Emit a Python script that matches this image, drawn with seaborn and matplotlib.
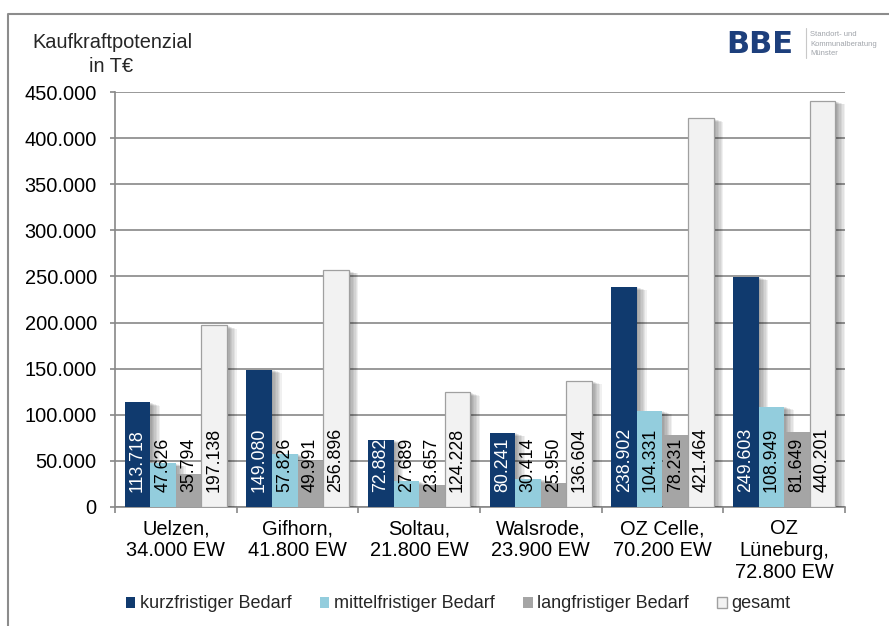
import matplotlib
matplotlib.use("Agg")
import matplotlib.pyplot as plt
import matplotlib.patheffects as pe
from matplotlib.lines import Line2D
from matplotlib.patches import Patch
from matplotlib.ticker import FixedLocator, FuncFormatter
import seaborn as sns
import pandas as pd

# --- data -------------------------------------------------------------
standorte = ["Uelzen,\n34.000 EW", "Gifhorn,\n41.800 EW", "Soltau,\n21.800 EW",
             "Walsrode,\n23.900 EW", "OZ Celle,\n70.200 EW", "OZ\nLüneburg,\n72.800 EW"]
kurzfristig = [113718, 149080, 72882, 80241, 238902, 249603]
mittelfristig = [47626, 57826, 27689, 30414, 104331, 108949]
langfristig = [35794, 49991, 23657, 25950, 78231, 81649]
gesamt = [197138, 256896, 124228, 136604, 421464, 440201]
serien = ["kurzfristiger Bedarf", "mittelfristiger Bedarf", "langfristiger Bedarf", "gesamt"]
y_ticks = list(range(0, 450001, 50000))

farben = ["#103a6e", "#93cddd", "#a5a5a5", "#f2f2f2"]
label_farben = ["white", "black", "black", "black"]

df = pd.DataFrame({
    "Standort": standorte * 4,
    "Bedarf": sum([[s] * len(standorte) for s in serien], []),
    "Wert": kurzfristig + mittelfristig + langfristig + gesamt,
})

sns.set_style("white")
plt.rcParams["font.family"] = ["Liberation Sans", "DejaVu Sans"]

fig = plt.figure(figsize=(8.89, 6.26), dpi=100)
ax = fig.add_axes([115 / 889, 1 - 507 / 626, 730 / 889, 415 / 626])

sns.barplot(data=df, x="Standort", y="Wert", hue="Bedarf", hue_order=serien,
            order=standorte, palette=farben, saturation=1, width=0.84,
            errorbar=None, legend=False, ax=ax, zorder=3)

def de_fmt(v):
    return f"{int(round(v)):,}".replace(",", ".")

# soft drop shadow built from stacked, slightly offset copies
schatten = [pe.SimplePatchShadow(offset=(k * 1.0, -k * 0.35), shadow_rgbFace="black",
                                 alpha=0.06) for k in range(1, 8)] + [pe.Normal()]

for i, cont in enumerate(ax.containers):
    for bar in cont:
        bar.set_edgecolor("#a0a0a0" if i == 3 else farben[i])
        bar.set_linewidth(0.9 if i == 3 else 0)
        bar.set_path_effects(schatten)
        xc = bar.get_x() + bar.get_width() / 2
        ax.annotate(de_fmt(bar.get_height()), xy=(xc, 0), xytext=(0, 10.5),
                    textcoords="offset points", rotation=90, ha="center",
                    va="bottom", fontsize=12.8, color=label_farben[i], zorder=5)

# --- axes styling -----------------------------------------------------
grau = "#888888"
ax.set_xlim(-0.5, len(standorte) - 0.5)
ax.set_ylim(0, 450000)
ax.yaxis.set_major_locator(FixedLocator(y_ticks))
ax.yaxis.set_major_formatter(FuncFormatter(lambda v, p: de_fmt(v)))
ax.grid(axis="y", color=grau, linewidth=1.2)
ax.grid(axis="x", visible=False)
ax.set_axisbelow(True)
ax.set_xlabel("")
ax.set_ylabel("")
for s in ["top", "right"]:
    ax.spines[s].set_visible(False)
for s in ["left", "bottom"]:
    ax.spines[s].set_color(grau)
    ax.spines[s].set_linewidth(1.2)
ax.tick_params(axis="y", which="major", direction="out", length=3.6, width=1.2,
               color=grau, pad=9.5, labelsize=14.4, labelcolor="black", left=True)
ax.xaxis.set_minor_locator(FixedLocator([i - 0.5 for i in range(len(standorte) + 1)]))
ax.tick_params(axis="x", which="minor", direction="out", length=4.3, width=1.2,
               color=grau, bottom=True)
ax.tick_params(axis="x", which="major", length=0, pad=9, labelsize=14.4,
               labelcolor="black")
for lbl in ax.get_xticklabels():
    lbl.set_ha("center")
    lbl.set_multialignment("center")
    lbl.set_linespacing(1.2)

# --- title and logo ---------------------------------------------------
fig.text(112 / 889, 1 - 48 / 626, "Kaufkraftpotenzial", ha="center", va="baseline",
         fontsize=14.4)
fig.text(111 / 889, 1 - 72 / 626, "in T€", ha="center", va="baseline", fontsize=14.4)

fig.text(726 / 889, 1 - 53 / 626, "BBE", ha="left", va="baseline", fontsize=22,
         fontweight="heavy", color="#1d3f7c", family=["DejaVu Sans"])
fig.add_artist(Line2D([806 / 889, 806 / 889], [1 - 28 / 626, 1 - 58 / 626],
                      transform=fig.transFigure, color="#c8c8c8", lw=0.8))
for j, t in enumerate(["Standort- und", "Kommunalberatung", "Münster"]):
    fig.text(810 / 889, 1 - (36 + j * 9.5) / 626, t, ha="left", va="baseline",
             fontsize=5.5, color="#a0a4aa")

# --- outer frame ------------------------------------------------------
fig.add_artist(Line2D([8 / 889, 8 / 889, 1.0], [0.0, 1 - 14 / 626, 1 - 14 / 626],
                      transform=fig.transFigure, color="#8c8c8c", lw=1.5))

# --- legend -----------------------------------------------------------
handles = [Patch(facecolor=farben[i], edgecolor="#a0a0a0" if i == 3 else farben[i],
                 linewidth=1.0 if i == 3 else 0) for i in range(4)]
fig.legend(handles, serien, loc="center", bbox_to_anchor=(458 / 889, 1 - 604 / 626),
           ncol=4, frameon=False, fontsize=13, handlelength=0.55, handleheight=0.55,
           handletextpad=0.25, columnspacing=1.55, borderaxespad=0)

fig.savefig("out.png", dpi=100, facecolor="white")
